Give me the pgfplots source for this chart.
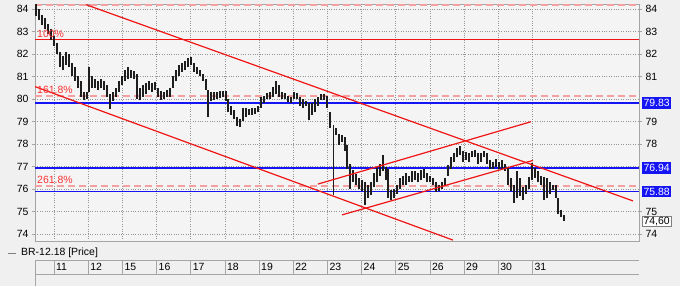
\documentclass[border=0pt]{standalone}
\usepackage{pgfplots}
\pgfplotsset{compat=1.18}
\usepackage{pgfplotstable}
\usepackage{fontspec}
\setmainfont{Liberation Sans}
\definecolor{bgc}{RGB}{240,240,240}
\definecolor{plotbg}{RGB}{244,244,244}
\definecolor{framec}{RGB}{165,165,165}
\definecolor{gridc}{RGB}{150,150,150}
\definecolor{redline}{RGB}{240,20,20}
\definecolor{fibdash}{RGB}{244,160,160}
\definecolor{fibtxt}{RGB}{250,50,50}
\definecolor{lvlblue}{RGB}{20,20,245}
\definecolor{barc}{RGB}{30,30,30}
\newcommand\labfont{\fontsize{10.5}{12}\selectfont}

\pgfplotstableread{
x lo hi
36 83.70 84.20
39 83.50 84.00
42 83.30 83.75
45 83.10 83.60
48 82.90 83.35
51 82.60 83.10
54 82.35 82.80
57 82.00 82.50
60 81.40 82.10
63 81.30 81.90
66 81.50 82.10
69 81.40 82.00
72 81.00 81.60
75 80.80 81.40
78 80.50 81.00
81 80.10 80.80
84 79.95 80.30
87 80.00 80.30
89 80.30 81.40
92 80.50 81.00
95 80.50 80.90
98 80.40 80.80
101 80.50 80.90
104 80.40 80.80
107 80.10 80.60
110 79.55 80.20
113 79.90 80.30
116 80.10 80.50
119 80.30 80.80
122 80.60 81.00
125 80.80 81.30
128 80.90 81.40
131 80.95 81.30
134 80.90 81.25
137 80.00 81.10
140 79.95 80.50
143 80.10 80.60
146 80.20 80.70
149 80.40 80.80
152 80.30 80.70
155 80.40 80.75
158 80.10 80.50
161 79.95 80.35
164 80.00 80.30
167 80.10 80.40
170 80.10 80.50
173 80.50 81.00
176 80.80 81.30
179 81.00 81.50
182 81.20 81.60
185 81.30 81.70
188 81.40 81.80
191 81.50 81.85
194 81.20 81.60
197 81.10 81.40
200 81.00 81.30
203 80.80 81.10
206 80.40 80.90
208 79.20 80.40
211 79.90 80.30
214 79.95 80.30
217 80.00 80.30
220 80.05 80.35
223 80.10 80.35
226 79.90 80.35
228 79.40 80.00
231 79.30 79.70
234 79.10 79.50
237 78.80 79.20
240 78.75 79.10
243 79.00 79.60
246 79.20 79.60
249 79.30 79.55
252 79.30 79.60
255 79.35 79.60
258 79.40 79.70
261 79.60 80.10
264 79.80 80.15
267 80.00 80.25
270 80.00 80.30
273 80.10 80.55
276 80.20 80.80
279 80.10 80.60
282 80.00 80.30
285 80.00 80.25
288 79.85 80.15
291 79.80 80.10
294 80.00 80.30
297 80.00 80.25
300 79.70 80.10
303 79.60 80.00
306 79.70 79.90
309 79.05 79.80
312 79.30 79.80
315 79.40 80.00
318 79.70 80.10
321 79.95 80.20
324 79.95 80.20
327 79.60 80.15
330 78.70 79.40
336 78.40 78.70
339 77.95 78.45
342 78.10 78.40
345 77.70 78.30
347 76.90 77.95
350 76.00 77.10
353 76.30 76.85
356 76.20 76.65
359 76.00 76.50
362 75.90 76.40
365 75.30 76.30
368 75.60 76.20
371 75.75 76.30
374 76.10 76.70
377 76.30 77.00
380 76.60 77.10
383 76.80 77.50
386 76.40 77.00
388 75.60 76.90
391 75.50 75.95
394 75.60 76.00
397 75.80 76.20
400 76.00 76.50
403 76.20 76.60
406 76.20 76.70
409 76.30 76.60
412 76.30 76.80
415 76.40 76.80
418 76.30 76.70
421 76.40 76.85
424 76.50 76.90
427 76.30 76.70
430 76.30 76.60
433 76.20 76.50
436 75.85 76.30
439 75.90 76.20
442 76.00 76.30
445 76.20 76.50
448 76.60 77.05
451 76.90 77.40
454 77.20 77.60
457 77.40 77.80
460 77.50 77.90
463 77.20 77.70
466 77.30 77.65
469 77.20 77.60
472 77.40 77.70
475 77.40 77.75
478 77.10 77.60
481 77.20 77.60
484 77.40 77.70
487 77.10 77.60
490 76.90 77.30
493 76.90 77.20
496 77.00 77.35
499 76.90 77.20
502 76.90 77.30
505 76.80 77.10
508 76.20 77.00
511 75.90 76.50
514 75.40 76.20
517 75.60 76.80
520 75.70 76.50
523 75.50 76.10
526 75.80 76.20
529 76.00 76.55
532 76.40 77.15
535 76.50 76.95
538 76.30 76.80
541 76.20 76.60
544 75.50 76.55
547 75.60 76.50
550 75.80 76.30
553 75.95 76.20
556 75.60 76.20
558 74.90 75.60
561 74.75 75.05
564 74.60 74.85
}\bars

\pgfplotstableread{
x lo hi
333 75.72 78.84
}\gapbar

\begin{document}
\begin{tikzpicture}[x=1bp,y=1bp]
\fill[bgc] (0,0) rectangle (680,286);

\begin{axis}[
  at={(35bp,45bp)}, anchor=south west,
  scale only axis, width=604bp, height=237bp,
  xmin=35, xmax=639, ymin=73.69, ymax=84.22,
  axis background/.style={fill=plotbg},
  axis line style={draw=framec, line width=0.8bp},
  xtick={54,88.2,122.3,156.5,190.7,224.9,259.0,293.2,327.4,361.5,395.7,429.9,464.0,498.2,532.4},
  xticklabels={11,12,15,16,17,18,19,22,23,24,25,26,29,30,31},
  ytick={74,75,...,84},
  grid=major,
  grid style={gridc, dotted, line width=0.7bp},
  xtick style={draw=none},
  ytick pos=left,
  tick align=outside, major tick length=3bp,
  ytick style={framec, line width=0.7bp},
  xticklabel style={font=\labfont, anchor=north west, inner sep=0pt, xshift=2bp, yshift=-19bp},
  yticklabel style={font=\labfont},
  /pgf/number format/assume math mode=true,
]
% fibonacci levels
\addplot[color=fibdash, line width=1.8bp, dash pattern=on 7bp off 4bp, forget plot] coordinates {(35,84.16) (639,84.16)};
\addplot[color=fibdash, line width=1.8bp, dash pattern=on 7bp off 4bp, forget plot] coordinates {(35,80.13) (639,80.13)};
\addplot[color=fibdash, line width=1.8bp, dash pattern=on 7bp off 4bp, forget plot] coordinates {(35,76.13) (639,76.13)};
\addplot[color=redline, line width=1.4bp, forget plot] coordinates {(35,82.65) (639,82.65)};
% blue levels
\addplot[color=lvlblue, line width=1.5bp, forget plot] coordinates {(35,79.83) (639,79.83)};
\addplot[color=lvlblue, line width=1.5bp, forget plot] coordinates {(35,76.94) (639,76.94)};
\addplot[color=lvlblue, line width=1.5bp, forget plot] coordinates {(35,75.88) (639,75.88)};
% price bars (low to high)
\addplot[color=barc, line width=1.15bp, mark=none, forget plot, -,
  quiver={u=0, v=\thisrow{hi}-\thisrow{lo}, scale arrows=1}]
  table[x=x, y=lo] {\bars};
\addplot[color=barc, line width=0.6bp, mark=none, forget plot, -,
  quiver={u=0, v=\thisrow{hi}-\thisrow{lo}, scale arrows=1}]
  table[x=x, y=lo] {\gapbar};
% trend lines
\addplot[color=redline, line width=1.2bp, forget plot] coordinates {(86,84.19) (633,75.47)};
\addplot[color=redline, line width=1.2bp, forget plot] coordinates {(35,80.55) (453,73.73)};
\addplot[color=redline, line width=1.2bp, forget plot] coordinates {(318,76.22) (531,78.99)};
\addplot[color=redline, line width=1.2bp, forget plot] coordinates {(342,74.85) (533,77.27)};
% labels
\node[anchor=south west, inner sep=0pt, font=\labfont, text=fibtxt] at (axis cs:37,82.65) [yshift=2bp] {100\%};
\node[anchor=south west, inner sep=0pt, font=\labfont, text=fibtxt] at (axis cs:37,80.13) [yshift=2bp] {161.8\%};
\node[anchor=south west, inner sep=0pt, font=\labfont, text=fibtxt] at (axis cs:37,76.13) [yshift=2bp] {261.8\%};
\end{axis}

\begin{axis}[
  at={(35bp,45bp)}, anchor=south west,
  scale only axis, width=604bp, height=237bp,
  xmin=35, xmax=639, ymin=73.69, ymax=84.22,
  hide x axis,
  axis line style={draw=none},
  ytick={74,75,78,79,81,82,83,84},
  ytick pos=right, yticklabel pos=right,
  tick align=outside, major tick length=3bp,
  ytick style={framec, line width=0.7bp},
  yticklabel style={font=\labfont},
  /pgf/number format/assume math mode=true,
  clip=false,
]
\node[fill=lvlblue, text=white, font=\labfont, inner xsep=1.3bp, inner ysep=0pt, minimum height=11.5bp, anchor=west] at (axis cs:639,79.83) [xshift=3bp] {79.83};
\node[fill=lvlblue, text=white, font=\labfont, inner xsep=1.3bp, inner ysep=0pt, minimum height=11.5bp, anchor=west] at (axis cs:639,76.94) [xshift=3bp] {76.94};
\node[fill=lvlblue, text=white, font=\labfont, inner xsep=1.3bp, inner ysep=0pt, minimum height=11.5bp, anchor=west] at (axis cs:639,75.88) [xshift=3bp] {75.88};
\node[fill=white, draw=gray, text=black, font=\labfont, inner xsep=1.3bp, inner ysep=0pt, minimum height=10.5bp, anchor=west] at (axis cs:639,74.56) [xshift=3bp] {74,60};
\end{axis}

% legend row
\draw[gray, line width=0.8bp] (8,33) -- (16,33);
\node[anchor=west, font=\labfont, inner sep=0pt] at (21,33) {BR-12.18 [Price]};

% date strip
\draw[framec, line width=0.8bp] (35,26) -- (639,26);
\draw[framec, line width=0.8bp] (35,12) -- (639,12);
\draw[framec, line width=0.8bp] (35,0) -- (35,26);
\foreach \p in {54,88.2,122.3,156.5,190.7,224.9,259.0,293.2,327.4,361.5,395.7,429.9,464.0,498.2,532.4}{
  \draw[framec, line width=0.8bp] (\p,12) -- (\p,26);
}
\pgfresetboundingbox
\path (0,0) rectangle (680,286);
\end{tikzpicture}
\end{document}
